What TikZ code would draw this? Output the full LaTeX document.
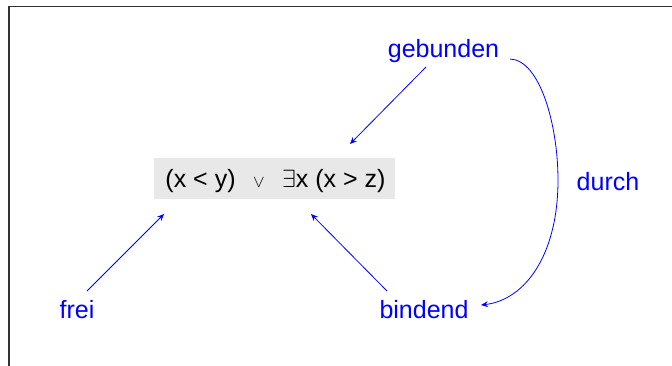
\documentclass[tikz,border=0pt]{standalone}
\usepackage{fontspec}
\setmainfont{Liberation Sans}
\usetikzlibrary{arrows.meta}
\begin{document}
\begin{tikzpicture}[x=1pt,y=-1pt,
  lbl/.style={text=blue,font=\fontsize{25}{30}\selectfont,anchor=base,inner sep=0pt},
  conn/.style={draw=blue,line width=0.8pt,-{Stealth[length=7pt,width=6pt,inset=2.5pt]}},
  frame/.style={draw=black!80,line width=1.3pt}]
\useasboundingbox (0,0) rectangle (672,365);
\draw[frame] (9,366) -- (9,6.5) -- (673,6.5);
\fill[black!9] (154,158) rectangle (395,199);
\node[inner sep=0pt,anchor=base,font=\fontsize{25}{30}\selectfont] (f) at (275.5,187.5)
  {(x < y)\hspace{0.7em}{\fontsize{19}{20}\selectfont$\vee$}\hspace{0.7em}{\fontsize{24}{28}\selectfont$\exists$}x (x > z)};
\node[lbl] (geb) at (443.5,57) {gebunden};
\node[lbl] (bin) at (424,318) {bindend};
\node[lbl] (frei) at (77,318) {frei};
\node[lbl] (durch) at (608,190) {durch};
\coordinate (g1) at (426,67);
\coordinate (g2) at (350,144);
\coordinate (f1) at (87,291);
\coordinate (f2) at (164,214);
\coordinate (b1) at (387,291);
\coordinate (b2) at (311,214);
\coordinate (d1) at (510,59);
\coordinate (dm) at (558,180);
\coordinate (d2) at (481,305);
\draw[conn] (g1) -- (g2);
\draw[conn] (f1) -- (f2);
\draw[conn] (b1) -- (b2);
\draw[conn] (d1) .. controls (540,60) and (558,125) .. (dm) .. controls (558,255) and (525,300) .. (d2);
\end{tikzpicture}
\end{document}
